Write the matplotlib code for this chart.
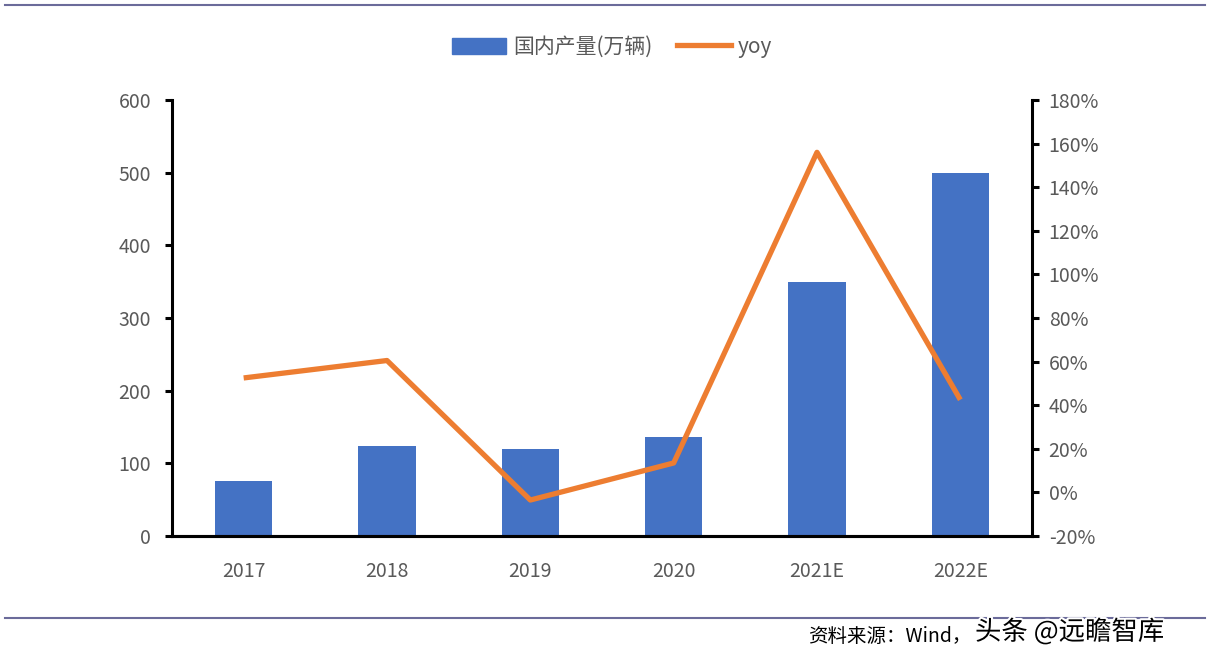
import matplotlib
matplotlib.use('Agg')
import matplotlib.pyplot as plt
import matplotlib.patheffects as pe
from matplotlib.lines import Line2D
import numpy as np

plt.rcParams['font.family'] = ['Noto Sans CJK SC', 'DejaVu Sans']

years = ['2017', '2018', '2019', '2020', '2021E', '2022E']
output = [76, 124, 120, 136, 350, 500]      # 国内产量(万辆)
yoy = [52.5, 60.5, -3.5, 13.5, 156, 42.5]   # %

fig = plt.figure(figsize=(12.12, 6.66), dpi=100)
ax = fig.add_axes([172/1212, 1-536/666, 860/1212, 436/666])
ax2 = ax.twinx()

x = np.arange(len(years))
ax.bar(x, output, width=0.4, color='#4472C4', zorder=2)
ax2.plot(x, yoy, color='#ED7D31', lw=3.8, solid_capstyle='butt', zorder=3)

ax.set_xlim(-0.5, len(years) - 0.5)
ax.set_ylim(0, 600)
ax.set_yticks(range(0, 601, 100))
ax2.set_ylim(-20, 180)
ax2.set_yticks(range(-20, 181, 20))
ax2.set_yticklabels([f'{v}%' for v in range(-20, 181, 20)])
ax.set_xticks(x)
ax.set_xticklabels(years)

for a in (ax, ax2):
    a.spines['top'].set_visible(False)
    for s in ('left', 'right', 'bottom'):
        a.spines[s].set_linewidth(2.2)
        a.spines[s].set_color('black')
    a.tick_params(axis='y', colors='black', labelcolor='#595959', labelsize=14,
                  width=2.2, length=5, pad=10)
ax.spines['right'].set_visible(False)
ax2.spines['left'].set_visible(False)
ax.tick_params(axis='x', length=0, labelcolor='#595959', labelsize=14, pad=18)
ax2.tick_params(axis='y', pad=7)

handles = [plt.Rectangle((0, 0), 1, 1, color='#4472C4'),
           Line2D([], [], color='#ED7D31', lw=3.8)]
fig.legend(handles, ['国内产量(万辆)', 'yoy'], loc='center', bbox_to_anchor=(0.505, 1-47/666),
           ncol=2, frameon=False, fontsize=15, labelcolor='#595959',
           handlelength=2.6, handleheight=0.8, columnspacing=1.2, handletextpad=0.3)

fig.add_artist(Line2D([5/1212, 1205/1212], [1-5/666, 1-5/666], color='#6B6B9A', lw=1.5))
fig.add_artist(Line2D([5/1212, 1205/1212], [1-618/666, 1-618/666], color='#6B6B9A', lw=1.5))

fig.text(808/1212, 1-636/666, '资料来源：Wind，', fontsize=14, style='italic', va='center', color='black')
fig.text(975/1212, 1-632/666, '头条 @远瞻智库', fontsize=19, va='center', color='black',
         path_effects=[pe.withStroke(linewidth=3, foreground='white')])

fig.savefig('out.png', dpi=100)
